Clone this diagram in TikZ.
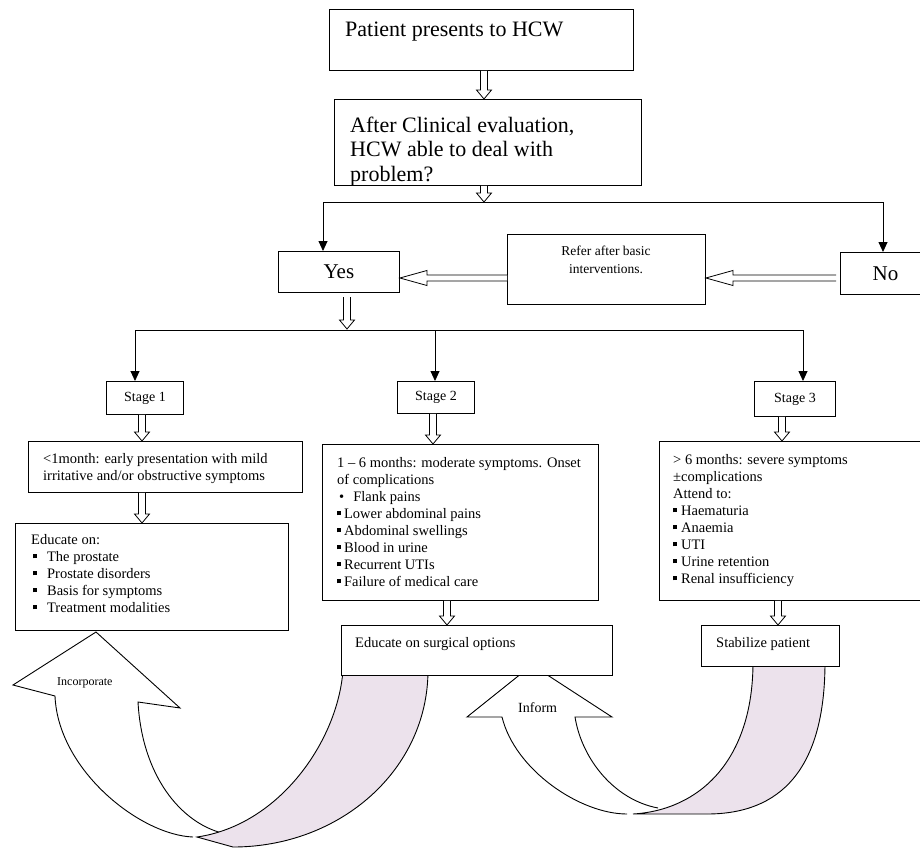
\documentclass[tikz,border=0pt]{standalone}
\usepackage{fontspec}
\setmainfont{Liberation Serif}
\usetikzlibrary{arrows.meta,calc}
\definecolor{bandc}{RGB}{236,226,236}
\newcommand\sqb{\rule[0.18em]{0.27em}{0.27em}}
\newcommand\bodyfont{\fontsize{14.5}{17}\selectfont}
\newcommand\bigfont{\fontsize{22}{24.5}\selectfont}
% hollow vertical arrow: x position, from anchor, to anchor
\newcommand\vhol[3]{%
  \draw[hol] let \p1=(#2), \p2=(#3) in
    (#1pt-3.5pt,\y1) -- (#1pt-3.5pt,\y2+9pt) -- (#1pt-7.5pt,\y2+9pt) -- (#1pt,\y2)
    -- (#1pt+7.5pt,\y2+9pt) -- (#1pt+3.5pt,\y2+9pt) -- (#1pt+3.5pt,\y1);}
% hollow horizontal arrow pointing left: y position, from anchor (right), to anchor (left)
\newcommand\hhol[3]{%
  \draw[hol] let \p1=(#2), \p2=(#3) in
    (\x1,-#1pt+3pt) -- (\x2+27pt,-#1pt+3pt) -- (\x2+27pt,-#1pt+7.5pt) -- (\x2,-#1pt)
    -- (\x2+27pt,-#1pt-7.5pt) -- (\x2+27pt,-#1pt-3pt) -- (\x1,-#1pt-3pt);}
\begin{document}
\begin{tikzpicture}[x=1pt,y=-1pt,
  box/.style={draw, line width=0.9pt, fill=white, inner sep=0pt, anchor=north west},
  conn/.style={line width=0.9pt},
  tip/.style={-{Triangle[width=9pt,length=10pt]}},
  hol/.style={draw, fill=white, line width=0.8pt},
  txt/.style={inner sep=0pt, anchor=base west, align=left},
  curve/.style={line width=0.9pt}]
\useasboundingbox (0,0) rectangle (920,848);

% ---- curved arrow "Incorporate" ----
\fill[white] (193,837) .. controls (140,835) and (58,770) .. (55,696)
  -- (13,685) -- (96,632) -- (180,708) -- (138,702)
  .. controls (142,775) and (180,822) .. (222,833) -- cycle;
\draw[curve] (193,837) .. controls (140,835) and (58,770) .. (55,696)
  -- (13,685) -- (96,632) -- (180,708) -- (138,702)
  .. controls (142,775) and (180,822) .. (222,833);
\filldraw[curve, fill=bandc] (343,670) .. controls (338,740) and (280,825) .. (197,837)
  -- (233,847) .. controls (340,847) and (428,770) .. (428,670) -- cycle;
\node[inner sep=0pt, anchor=base west, font=\fontsize{12}{14}\selectfont] (tInc) at (57,685) {Incorporate};

% ---- curved arrow "Inform" ----
\fill[white] (627,814) .. controls (580,814) and (515,770) .. (502,717)
  -- (467,717) -- (532,665) -- (612,717) -- (575,717)
  .. controls (582,760) and (615,800) .. (658,808) -- cycle;
\draw[curve] (627,814) .. controls (580,814) and (515,770) .. (502,717)
  -- (467,717) -- (532,665) -- (612,717) -- (575,717)
  .. controls (582,760) and (615,800) .. (658,808);
\filldraw[curve, fill=bandc] (753,662) .. controls (753,760) and (700,810) .. (633,814)
  -- (707,814) .. controls (780,814) and (825,770) .. (825,662) -- cycle;
\node[inner sep=0pt, anchor=base west, font=\fontsize{14}{16}\selectfont] (tInf) at (518,712) {Inform};

% ---- boxes ----
\node[box, minimum width=304pt, minimum height=61pt] (top) at (329,9) {};
\node[box, minimum width=307pt, minimum height=86pt] (eval) at (334,99) {};
\node[box, minimum width=121pt, minimum height=41pt, font=\fontsize{21}{24}\selectfont] (yes) at (278,251) {Yes};
\node[box, minimum width=198pt, minimum height=70pt] (refer) at (507,234) {};
\node[box, minimum width=90pt, minimum height=42pt, font=\fontsize{21}{24}\selectfont] (no) at (840,252) {No};
\node[box, minimum width=77pt, minimum height=33pt, font=\fontsize{14}{16}\selectfont] (s1) at (106,381) {Stage 1};
\node[box, minimum width=77pt, minimum height=32pt, font=\fontsize{14}{16}\selectfont] (s2) at (397,381) {Stage 2};
\node[box, minimum width=81pt, minimum height=35pt, font=\fontsize{14}{16}\selectfont] (s3) at (754,381) {Stage 3};
\node[box, minimum width=274pt, minimum height=51pt] (b1) at (28,441) {};
\node[box, minimum width=276pt, minimum height=156pt] (b2) at (322,444) {};
\node[box, minimum width=270pt, minimum height=159pt] (b3) at (659,441) {};
\node[box, minimum width=273pt, minimum height=107pt] (edu) at (15,523) {};
\node[box, minimum width=271pt, minimum height=50pt] (surg) at (341,625) {};
\node[box, minimum width=138pt, minimum height=41pt] (stab) at (701,625) {};

% ---- texts (base anchor = baseline of last line) ----
\node[txt, font=\bigfont] (tTop) at (345,37) {Patient presents to HCW};
\node[txt, font=\bigfont] (tEval) at (350,181) {After Clinical evaluation,\\HCW able to deal with\\problem?};
\node[inner sep=0pt, anchor=base, align=center, font=\fontsize{13.5}{18}\selectfont] (tRef) at (606,273.5) {Refer after basic\\interventions.};
\node[txt, font=\bodyfont] (tB1) at (43,480) {<1month: early presentation with mild\\irritative and/or obstructive symptoms};
\node[txt, font=\bodyfont] (tEdu) at (31,612) {Educate on:\\
  \hspace*{2pt}\sqb\hspace{10pt}The prostate\\
  \hspace*{2pt}\sqb\hspace{10pt}Prostate disorders\\
  \hspace*{2pt}\sqb\hspace{10pt}Basis for symptoms\\
  \hspace*{2pt}\sqb\hspace{10pt}Treatment modalities};
\node[txt, font=\bodyfont] (tB2) at (337,586) {1 -- 6 months: moderate symptoms. Onset\\of complications\\
  \hspace*{2pt}\textbullet\hspace{9pt}Flank pains\\
  \sqb\hspace{3pt}Lower abdominal pains\\
  \sqb\hspace{3pt}Abdominal swellings\\
  \sqb\hspace{3pt}Blood in urine\\
  \sqb\hspace{3pt}Recurrent UTIs\\
  \sqb\hspace{3pt}Failure of medical care};
\node[txt, font=\bodyfont] (tB3) at (673,583) {> 6 months: severe symptoms\\±complications\\Attend to:\\
  \sqb\hspace{4pt}Haematuria\\
  \sqb\hspace{4pt}Anaemia\\
  \sqb\hspace{4pt}UTI\\
  \sqb\hspace{4pt}Urine retention\\
  \sqb\hspace{4pt}Renal insufficiency};
\node[txt, font=\bodyfont] (tSurg) at (355,647) {Educate on surgical options};
\node[txt, font=\bodyfont] (tStab) at (716,647) {Stabilize patient};

% ---- connectors ----
\coordinate (split1) at (484,202);
\coordinate (ly) at (323,202);
\coordinate (ln) at (883,202);
\coordinate (split2) at (347,329);
\coordinate (l1) at (135,330);
\coordinate (l2) at (435,330);
\coordinate (l3) at (803,330);
\coordinate (nol) at (836,278);
\coordinate (yesb) at (347,297);

\draw[conn] (ly) -- (ln);
\draw[conn,tip] (ly) -- (ly |- yes.north);
\draw[conn,tip] (ln) -- (ln |- no.north);
\draw[conn] (l1) -- (l3);
\draw[conn,tip] (l1) -- (l1 |- s1.north);
\draw[conn,tip] (l2) -- (l2 |- s2.north);
\draw[conn,tip] (l3) -- (l3 |- s3.north);

\vhol{484}{top.south}{eval.north}
\vhol{484}{eval.south}{split1}
\vhol{347}{yesb}{split2}
\vhol{142}{s1.south}{b1.north}
\vhol{142}{b1.south}{edu.north}
\vhol{433}{s2.south}{b2.north}
\vhol{447}{b2.south}{surg.north}
\vhol{782}{s3.south}{b3.north}
\vhol{778}{b3.south}{stab.north}
\hhol{278}{refer.west}{yes.east}
\hhol{278}{nol}{refer.east}
\end{tikzpicture}
\end{document}
